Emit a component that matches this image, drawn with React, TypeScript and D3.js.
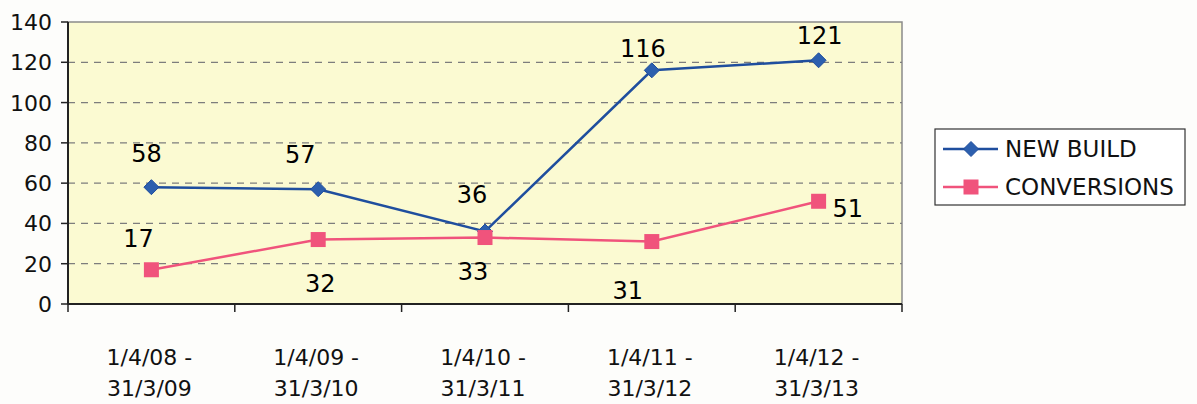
import * as d3 from 'd3';

const WIDTH = 1197;
const HEIGHT = 404;
const PLOT = { left: 68, top: 22, right: 902, bottom: 304 };

const periods = ['1/4/08 - 31/3/09', '1/4/09 - 31/3/10', '1/4/10 - 31/3/11', '1/4/11 - 31/3/12', '1/4/12 - 31/3/13'];
const newBuild = [58, 57, 36, 116, 121];
const conversions = [17, 32, 33, 31, 51];
const yTicks = [0, 20, 40, 60, 80, 100, 120, 140];

// label offsets relative to each point (dx, dy), as placed in the original
const newBuildLabelOffsets = [[-5, -25], [-18, -26], [-13, -28], [-9, -13], [1, -16]];
const conversionLabelOffsets = [[-13, -23], [2, 52], [-12, 42], [-24, 57], [14, 16]];

const BLUE_LINE = '#1f4e9e';
const BLUE_MARK = '#2c5fae';
const PINK = '#f0537c';
const FONT = '"DejaVu Sans", Verdana, sans-serif';

const App = () => {
  const xScale = d3.scaleBand().domain(periods).range([PLOT.left, PLOT.right]);
  const yScale = d3.scaleLinear().domain([0, 140]).range([PLOT.bottom, PLOT.top]);
  const cx = (i: number) => (xScale(periods[i]) ?? 0) + xScale.bandwidth() / 2;

  const line = d3
    .line<number>()
    .x((_, i) => cx(i))
    .y((d) => yScale(d));

  const diamond = (x: number, y: number, r: number) =>
    `M${x},${y - r}L${x + r},${y}L${x},${y + r}L${x - r},${y}Z`;

  const grid = yTicks.slice(1, -1).map((v) => (
    <line
      key={v}
      x1={PLOT.left}
      x2={PLOT.right}
      y1={yScale(v)}
      y2={yScale(v)}
      stroke="#7d7d7d"
      strokeWidth={1.3}
      strokeDasharray="7,6"
    />
  ));

  const yAxis = yTicks.map((v) => (
    <g key={v}>
      <line x1={PLOT.left - 7} x2={PLOT.left} y1={yScale(v)} y2={yScale(v)} stroke="#222" strokeWidth={1.5} />
      <text x={PLOT.left - 16} y={yScale(v) + 8} textAnchor="end" fontSize={22} fontFamily={FONT} fill="#111">
        {v}
      </text>
    </g>
  ));

  const xAxis = periods.map((p, i) => {
    const [a, b] = p.split(' - ');
    const x0 = xScale(p) ?? 0;
    return (
      <g key={p}>
        <line x1={x0} x2={x0} y1={PLOT.bottom} y2={PLOT.bottom + 8} stroke="#222" strokeWidth={1.5} />
        {i === periods.length - 1 && (
          <line x1={PLOT.right} x2={PLOT.right} y1={PLOT.bottom} y2={PLOT.bottom + 8} stroke="#222" strokeWidth={1.5} />
        )}
        <text x={cx(i) - 2} y={365} textAnchor="middle" fontSize={22} fontFamily={FONT} fill="#111">
          {a + ' -'}
        </text>
        <text x={cx(i) - 2} y={396} textAnchor="middle" fontSize={22} fontFamily={FONT} fill="#111">
          {b}
        </text>
      </g>
    );
  });

  const newBuildMarks = newBuild.map((v, i) => (
    <g key={i}>
      <path d={diamond(cx(i), yScale(v), 7.5)} fill={BLUE_MARK} stroke={BLUE_LINE} strokeWidth={1} />
      <text
        x={cx(i) + newBuildLabelOffsets[i][0]}
        y={yScale(v) + newBuildLabelOffsets[i][1]}
        textAnchor="middle"
        fontSize={24}
        fontFamily={FONT}
        fill="#000"
      >
        {v}
      </text>
    </g>
  ));

  const conversionMarks = conversions.map((v, i) => (
    <g key={i}>
      <rect x={cx(i) - 7.5} y={yScale(v) - 7.5} width={15} height={15} fill={PINK} />
      <text
        x={cx(i) + conversionLabelOffsets[i][0]}
        y={yScale(v) + conversionLabelOffsets[i][1]}
        textAnchor={i === conversions.length - 1 ? 'start' : 'middle'}
        fontSize={24}
        fontFamily={FONT}
        fill="#000"
      >
        {v}
      </text>
    </g>
  ));

  return (
    <div style={{ position: 'absolute', left: 0, top: 0 }}>
      <svg width={WIDTH} height={HEIGHT} style={{ display: 'block', background: '#fdfdfb' }}>
        <rect
          x={PLOT.left}
          y={PLOT.top}
          width={PLOT.right - PLOT.left}
          height={PLOT.bottom - PLOT.top}
          fill="#fbfad2"
          stroke="#8a8a8a"
          strokeWidth={1.5}
        />
        {grid}
        <line x1={PLOT.left} x2={PLOT.left} y1={PLOT.top} y2={PLOT.bottom} stroke="#222" strokeWidth={2} />
        <line x1={PLOT.left} x2={PLOT.right} y1={PLOT.bottom} y2={PLOT.bottom} stroke="#222" strokeWidth={2} />
        {yAxis}
        {xAxis}
        <path d={line(newBuild) ?? ''} fill="none" stroke={BLUE_LINE} strokeWidth={2.5} />
        <path d={line(conversions) ?? ''} fill="none" stroke={PINK} strokeWidth={2.5} />
        {newBuildMarks}
        {conversionMarks}

        {/* legend */}
        <g>
          <rect x={935} y={129} width={250} height={76} fill="#fff" stroke="#333" strokeWidth={1.2} />
          <line x1={943} x2={998} y1={149} y2={149} stroke={BLUE_LINE} strokeWidth={2.5} />
          <path d={diamond(971, 149, 7.5)} fill={BLUE_MARK} stroke={BLUE_LINE} strokeWidth={1} />
          <text x={1005} y={157} fontSize={23} fontFamily={FONT} fill="#111">
            NEW BUILD
          </text>
          <line x1={943} x2={998} y1={187} y2={187} stroke={PINK} strokeWidth={2.5} />
          <rect x={963.5} y={179.5} width={15} height={15} fill={PINK} />
          <text x={1005} y={195} fontSize={23} fontFamily={FONT} fill="#111">
            CONVERSIONS
          </text>
        </g>
      </svg>
    </div>
  );
};

export default App;
